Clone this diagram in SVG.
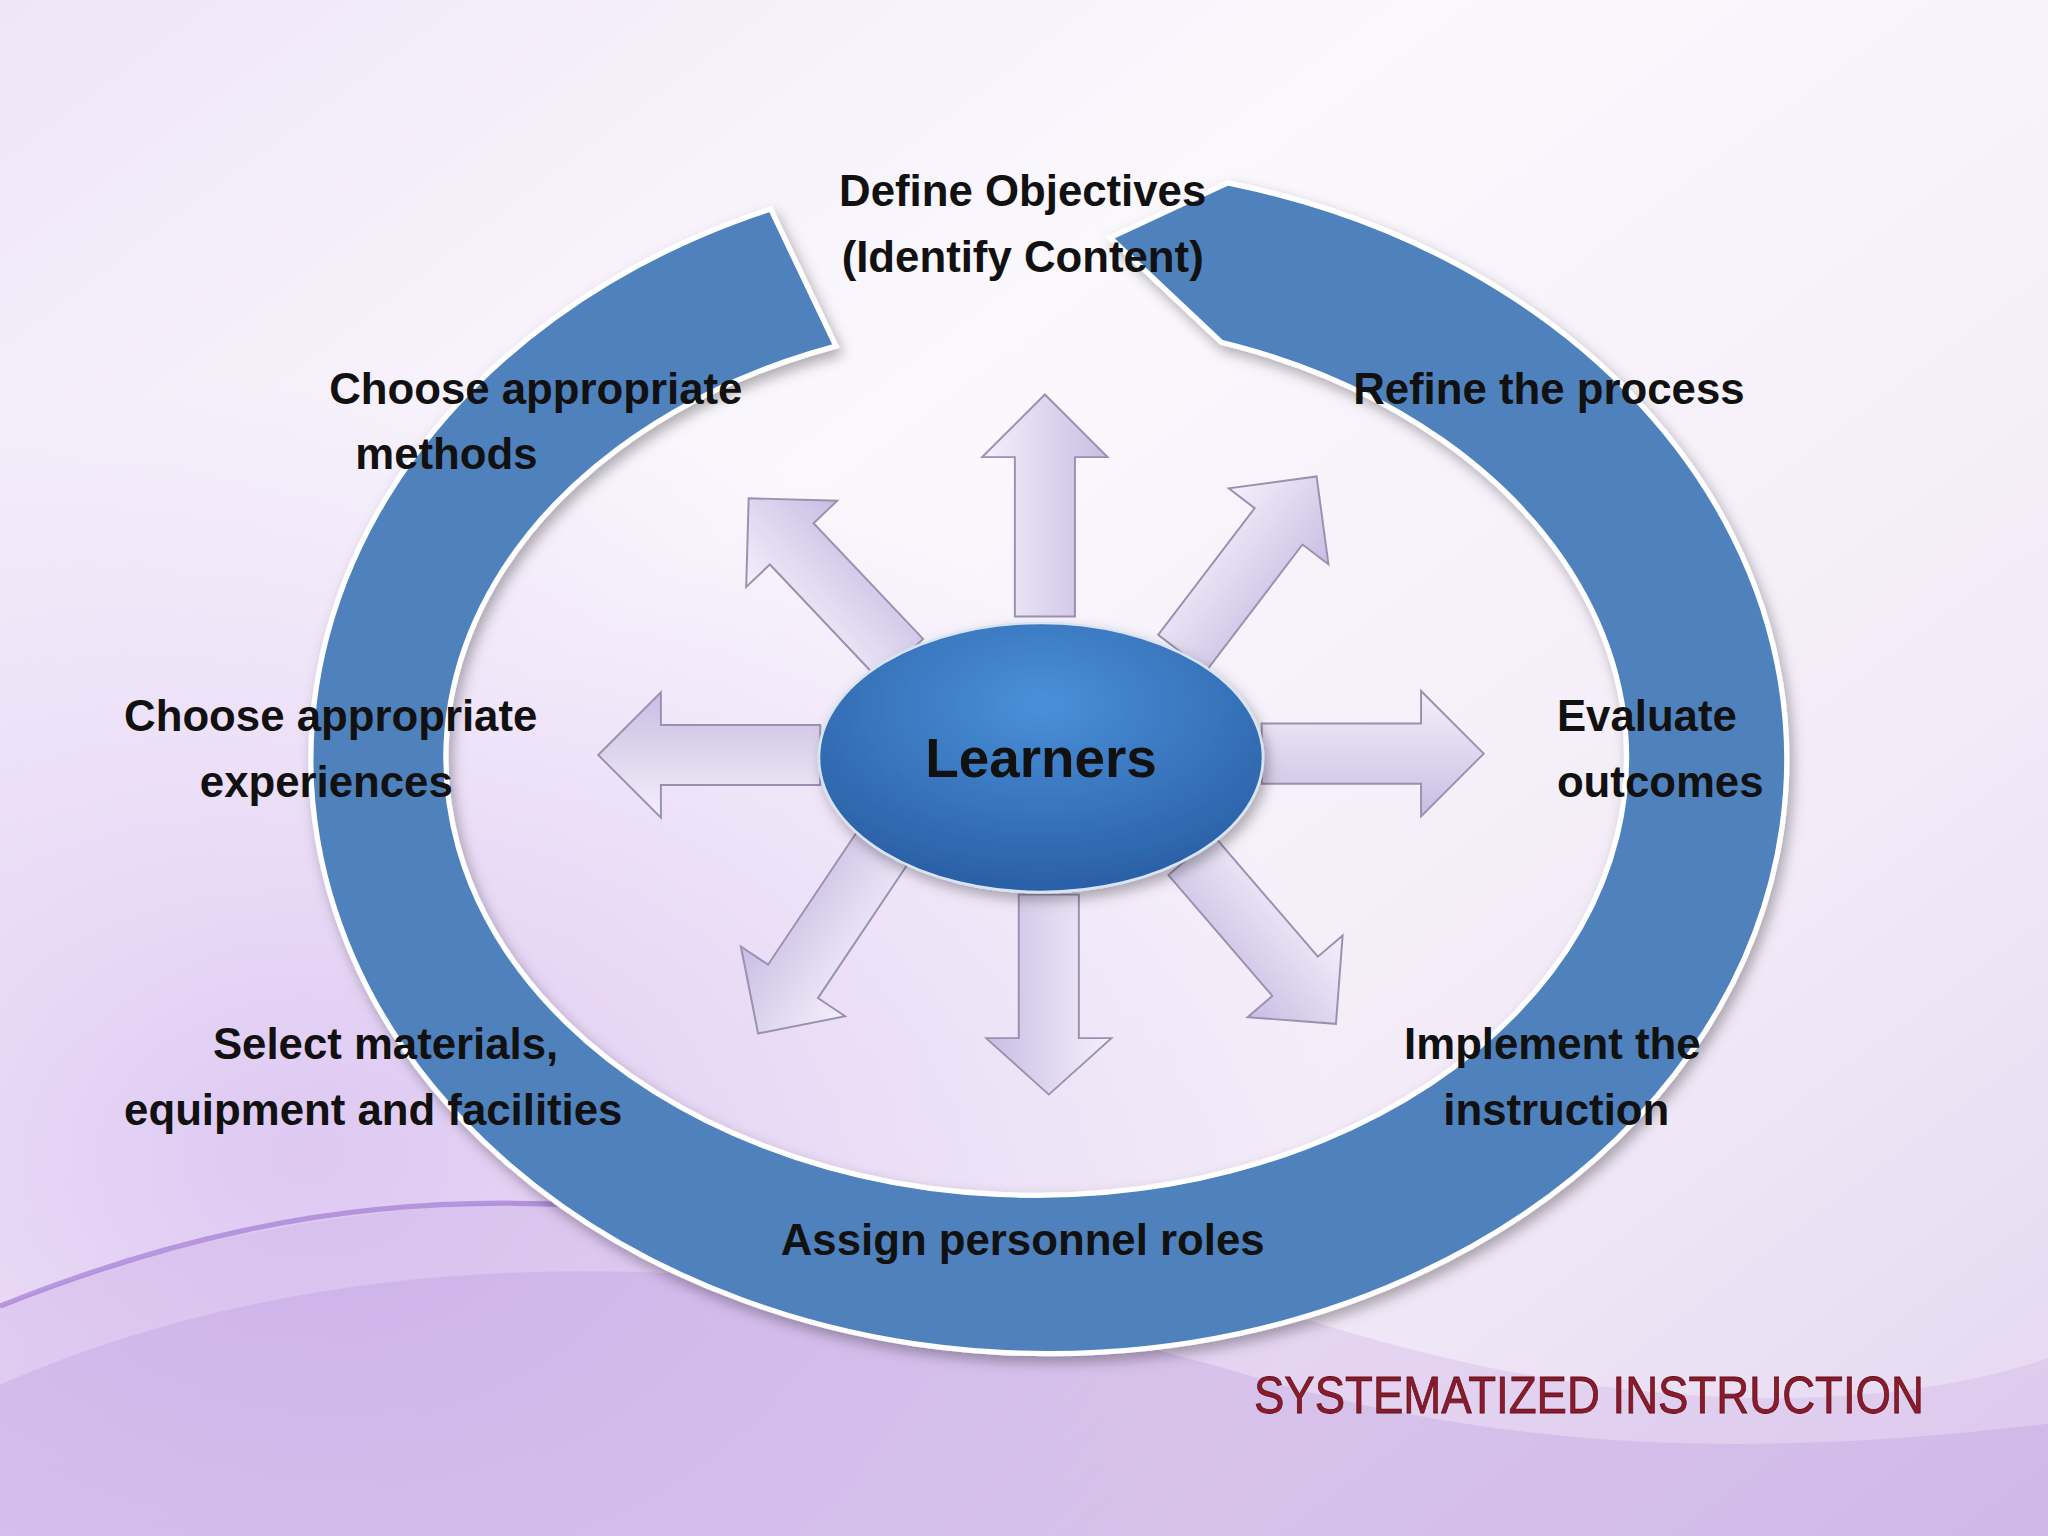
<svg xmlns="http://www.w3.org/2000/svg" width="2048" height="1536" viewBox="0 0 2048 1536">
<defs>
<linearGradient id="bg" x1="0" y1="0" x2="1" y2="1">
<stop offset="0" stop-color="#efe6f7"/><stop offset="0.35" stop-color="#fbf8fd"/><stop offset="0.7" stop-color="#f3ecf8"/><stop offset="1" stop-color="#e4d6f0"/>
</linearGradient>
<radialGradient id="glow" cx="0.15" cy="0.75" r="0.5">
<stop offset="0" stop-color="#d7bdf0" stop-opacity="0.8"/><stop offset="1" stop-color="#d7bdf0" stop-opacity="0"/>
</radialGradient>
<linearGradient id="arr" x1="0" y1="0" x2="0" y2="1">
<stop offset="0" stop-color="#f4f0fb"/><stop offset="1" stop-color="#c9bde3"/>
</linearGradient>
<radialGradient id="ell" cx="0.5" cy="0.3" r="0.7">
<stop offset="0" stop-color="#4a90d9"/><stop offset="1" stop-color="#2a5fa5"/>
</radialGradient>
<filter id="sh" x="-10%" y="-10%" width="120%" height="130%"><feDropShadow dx="3" dy="5" stdDeviation="5" flood-opacity="0.3"/></filter>
<path id="ar" d="M0,-23 L122,-23 L122,-48 L170,0 L122,48 L122,23 L0,23 Z"/>
<style>
.t{font-family:"Liberation Sans",Arial,sans-serif;font-weight:bold;font-size:33.5px;fill:#111}
.a{fill:url(#arr);stroke:#9a90b0;stroke-width:1.5}
</style>
</defs>
<rect width="2048" height="1536" fill="url(#bg)"/>
<rect width="2048" height="1536" fill="url(#glow)"/>
<g transform="scale(1.30612)">
<path d="M0,1000 C300,880 700,900 1000,1010 C1250,1090 1450,1080 1568,1040 L1568,1176 L0,1176 Z" fill="#c9a8e6" opacity="0.3"/>
<path d="M0,1060 C300,930 650,960 980,1060 C1200,1120 1400,1110 1568,1090 L1568,1176 L0,1176 Z" fill="#a77fd6" opacity="0.2"/>
<path d="M0,1000 C250,900 500,880 900,1030" fill="none" stroke="#8a5cc8" stroke-width="4" opacity="0.5"/>
<g id="ring" filter="url(#sh)">
<path d="M590,160 A565 455 0 1 0 940,140 L850,182 L935,262 A452 335 0 1 1 640,265 Z" fill="#4f81bd" stroke="#ffffff" stroke-width="4"/>
</g>
<g id="arrows">
<use href="#ar" class="a" transform="translate(800,472) rotate(-90)"/>
<use href="#ar" class="a" transform="translate(803,685) rotate(90) scale(0.9,1)"/>
<use href="#ar" class="a" transform="translate(966,577)"/>
<use href="#ar" class="a" transform="translate(628,578) rotate(180)"/>
<use href="#ar" class="a" transform="translate(905,500) rotate(-52.7)"/>
<use href="#ar" class="a" transform="translate(690,505) rotate(-133.4)"/>
<use href="#ar" class="a" transform="translate(675,650) rotate(123.8)"/>
<use href="#ar" class="a" transform="translate(912,655) rotate(49.3)"/>
</g>
<g id="learners">
<ellipse cx="797" cy="580" rx="170" ry="103" fill="url(#ell)" stroke="#d8e4f4" stroke-width="2" filter="url(#sh)"/>
<text x="797" y="595" text-anchor="middle" class="t" style="font-size:42px">Learners</text>
</g>
<g id="labels">
<text class="t" x="783" y="158" text-anchor="middle">Define Objectives</text>
<text class="t" x="783" y="208" text-anchor="middle">(Identify Content)</text>
<text class="t" x="252" y="309">Choose appropriate</text>
<text class="t" x="272" y="359">methods</text>
<text class="t" x="1036" y="309">Refine the process</text>
<text class="t" x="95" y="560">Choose appropriate</text>
<text class="t" x="153" y="610">experiences</text>
<text class="t" x="1192" y="560">Evaluate</text>
<text class="t" x="1192" y="610">outcomes</text>
<text class="t" x="163" y="811">Select materials,</text>
<text class="t" x="95" y="861">equipment and facilities</text>
<text class="t" x="1075" y="811">Implement the</text>
<text class="t" x="1105" y="861">instruction</text>
<text class="t" x="783" y="961" text-anchor="middle">Assign personnel roles</text>
</g>
<text x="960" y="1082" textLength="513" lengthAdjust="spacingAndGlyphs" style="font-family:'Liberation Sans',Arial,sans-serif;font-size:40px;fill:#8b1a2b;stroke:#5a0f1a;stroke-width:0.6">SYSTEMATIZED INSTRUCTION</text>
</g>
</svg>
